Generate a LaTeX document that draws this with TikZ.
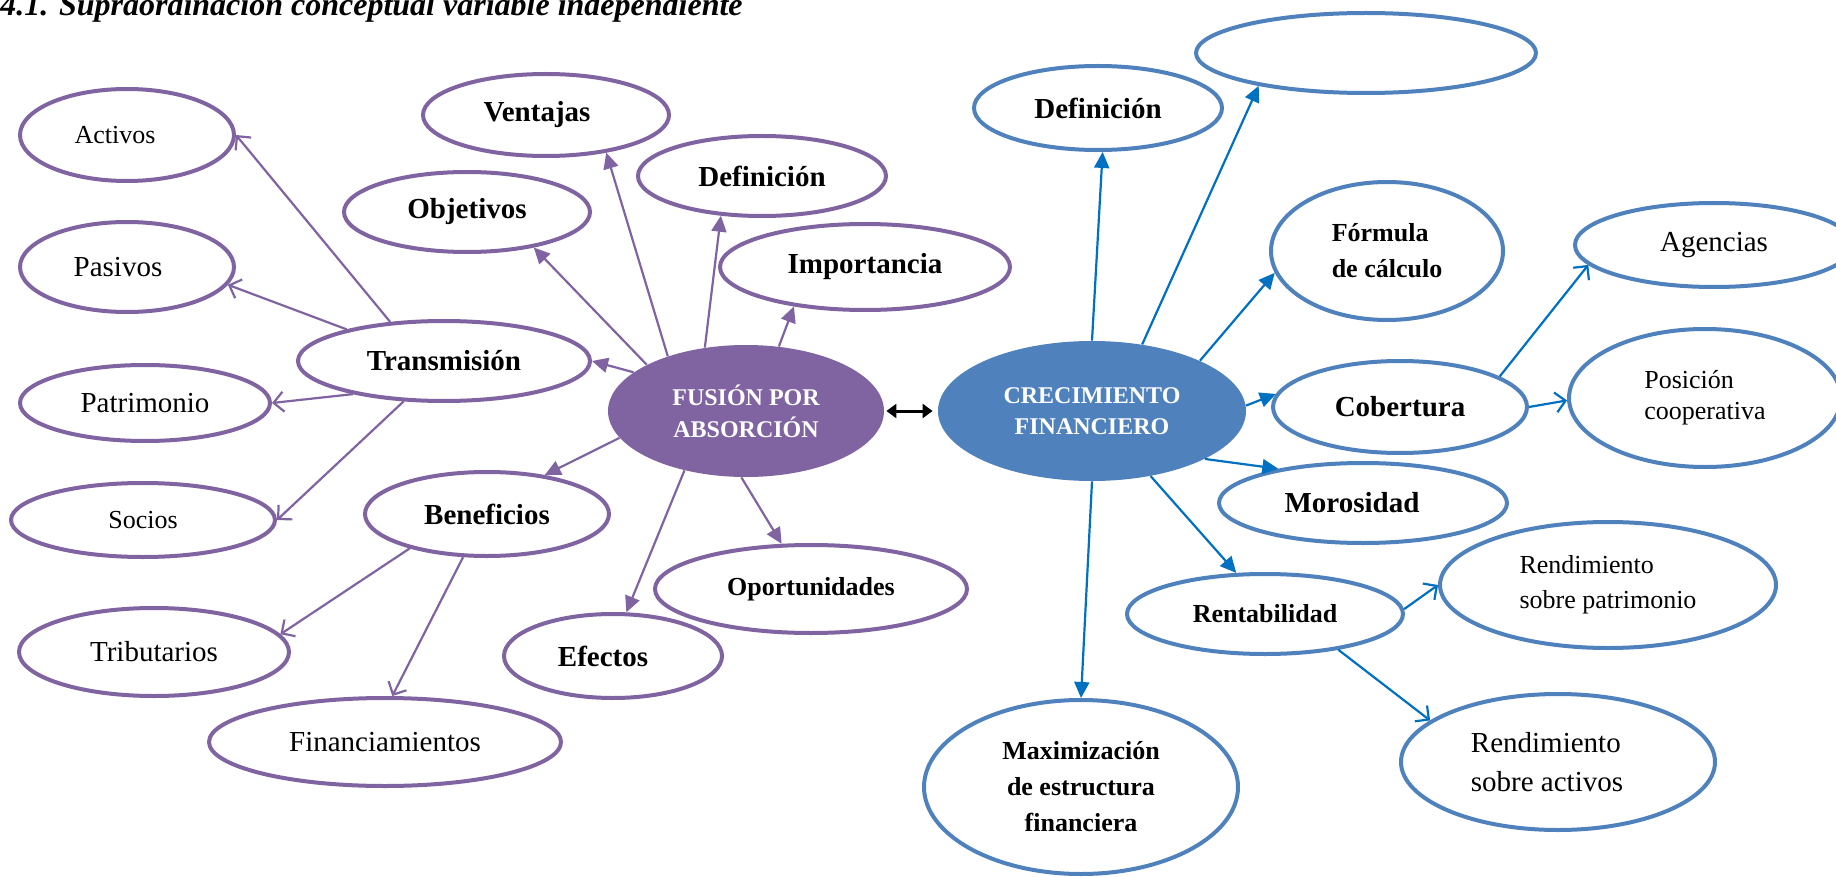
\documentclass[tikz,border=0pt]{standalone}
\usepackage{fontspec}
\setmainfont{Liberation Serif}
\usetikzlibrary{shapes.geometric,arrows.meta}
\definecolor{purp}{HTML}{8064A2}
\definecolor{blu}{HTML}{4F81BD}
\definecolor{lblu}{HTML}{0070C0}
\begin{document}
\begin{tikzpicture}[x=0.5pt,y=-0.5pt,
  sz/.style 2 args={minimum width=#1*1pt, minimum height=#2*1pt},
  el/.style={ellipse, inner sep=0pt, line width=2pt, text=black},
  pe/.style={el, draw=purp},
  be/.style={el, draw=blu},
  rgA/.style={font=\fontsize{14.5}{19.5}\selectfont},
  rgB/.style={font=\fontsize{13}{17.5}\selectfont},
  bfA/.style={font=\bfseries\fontsize{14.5}{18}\selectfont},
  bfB/.style={font=\bfseries\fontsize{13}{18}\selectfont},
  pa/.style={draw=purp, line width=1.1pt, -{Triangle[length=8pt,width=7.5pt]}},
  po/.style={draw=purp, line width=1.1pt, -{Straight Barb[length=5pt,width=10pt]}},
  ba/.style={draw=lblu, line width=1.1pt, -{Triangle[length=8pt,width=7.5pt]}},
  bo/.style={draw=lblu, line width=1.1pt, -{Straight Barb[length=5pt,width=10pt]}}
]
\useasboundingbox[fill=white] (0,0) rectangle (1836,877);

% title
\node[anchor=base west, inner sep=0pt, font=\bfseries\itshape\fontsize{16}{19}\selectfont] (title) at (0,16) {4.1. Supraordinación conceptual variable independiente};

% central nodes
\node[ellipse, inner sep=0pt, sz={138}{66}, fill=purp, text=white, align=center, font=\bfseries\fontsize{12}{16}\selectfont] (fus) at (746,411) {FUSIÓN POR\\ABSORCIÓN};
\node[ellipse, inner sep=0pt, sz={154}{70}, fill=blu, text=white, align=center, font=\bfseries\fontsize{12}{15.5}\selectfont] (cre) at (1092,411) {CRECIMIENTO\\FINANCIERO};

% purple side
\node[pe, sz={107}{46}, rgB] (act) at (127,135) {\hspace*{-12pt}Activos};
\node[pe, sz={107}{45}, rgA] (pas) at (127,267) {\hspace*{-9pt}Pasivos};
\node[pe, sz={125}{38}, rgA] (pat) at (145,403) {Patrimonio};
\node[pe, sz={146}{40}, bfA] (tra) at (444,361) {Transmisión};
\node[pe, sz={123}{40}, bfA] (obj) at (467,212) {Objetivos};
\node[pe, sz={123}{41}, bfA] (ven) at (546,115) {\hspace*{-9pt}Ventajas};
\node[pe, sz={132}{37}, rgB] (soc) at (143,520) {Socios};
\node[pe, sz={122}{42}, bfA] (ben) at (487,514) {Beneficios};
\node[pe, sz={135}{44}, rgA] (tri) at (154,652) {Tributarios};
\node[pe, sz={176}{44}, rgA] (fin) at (385,742) {Financiamientos};
\node[pe, sz={109}{42}, bfA] (efe) at (613,656) {\hspace*{-10pt}Efectos};
\node[pe, sz={156}{44}, bfB] (opo) at (811,589) {Oportunidades};
\node[pe, sz={124}{40}, bfA] (defa) at (762,176) {Definición};
\node[pe, sz={145}{43}, bfA] (imp) at (865,267) {Importancia};

% blue side
\node[be, sz={124}{42}, bfA] (defb) at (1098,108) {Definición};
\node[be, sz={170}{40}] (emp) at (1366,53) {};
\node[be, sz={116}{69}, bfB, align=left] (for) at (1387,251) {Fórmula\\de cálculo};
\node[be, sz={139}{42}, rgA] (age) at (1714,245) {Agencias};
\node[be, sz={127}{46}, bfA] (cob) at (1400,407) {Cobertura};
\node[be, sz={136}{69}, font=\fontsize{13}{15.5}\selectfont, align=left] (pos) at (1705,398) {Posición\\cooperativa};
\node[be, sz={144}{40}, bfA] (mor) at (1363,503) {\hspace*{-11pt}Morosidad};
\node[be, sz={138}{40}, bfB] (ren) at (1265,614) {Rentabilidad};
\node[be, sz={168}{63}, rgB, align=left] (rpa) at (1608,585) {Rendimiento\\sobre patrimonio};
\node[be, sz={157}{68}, rgA, align=left] (rac) at (1558,762) {\hspace*{-11pt}Rendimiento\\\hspace*{-11pt}sobre activos};
\node[be, sz={157}{87}, bfB, align=center] (max) at (1081,787) {Maximización\\de estructura\\financiera};

% purple connectors
\draw[pa] (fus.161.6) -- (tra.0);
\draw[pa] (fus.155.9) -- (obj.-28.7);
\draw[pa] (fus.145) -- (ven.-32);
\draw[pa] (fus.123.3) -- (defa.224.3);
\draw[pa] (fus.63.4) -- (imp.209.2);
\draw[pa] (fus.192.1) -- (ben.34.1);
\draw[pa] (fus.224.1) -- (efe.73.7);
\draw[pa] (fus.266.6) -- (opo.123.7);
\draw[po] (tra.144) -- (act.0);
\draw[po] (tra.162.9) -- (pas.-10);
\draw[po] (tra.200.5) -- (pat.0);
\draw[po] (tra.225.7) -- (soc.0);
\draw[po] (ben.204.7) -- (tri.8.9);
\draw[po] (ben.241.9) -- (fin.81.3);

% double arrow
\draw[line width=1.5pt, {Triangle[length=5pt,width=7pt]}-{Triangle[length=5pt,width=7pt]}, shorten <=1pt, shorten >=2.5pt] (fus.east) -- (cre.west);

% blue connectors
\draw[ba] (cre.90) -- (defb.-84.8);
\draw[ba] (cre.53.8) -- (emp.197.3);
\draw[ba] (cre.25.7) -- (for.191.1);
\draw[ba] (cre.2.7) -- (cob.174.1);
\draw[ba] (cre.-23.3) -- (mor.158.7);
\draw[ba] (cre.-48.6) -- (ren.125);
\draw[ba] (cre.270) -- (max.90);
\draw[bo] (cob.17.9) -- (age.189);
\draw[bo] (cob.-0.9) -- (pos.181);
\draw[bo] (ren.2.9) -- (rpa.180);
\draw[bo] (ren.-26.6) -- (rac.162.8);
\end{tikzpicture}
\end{document}
